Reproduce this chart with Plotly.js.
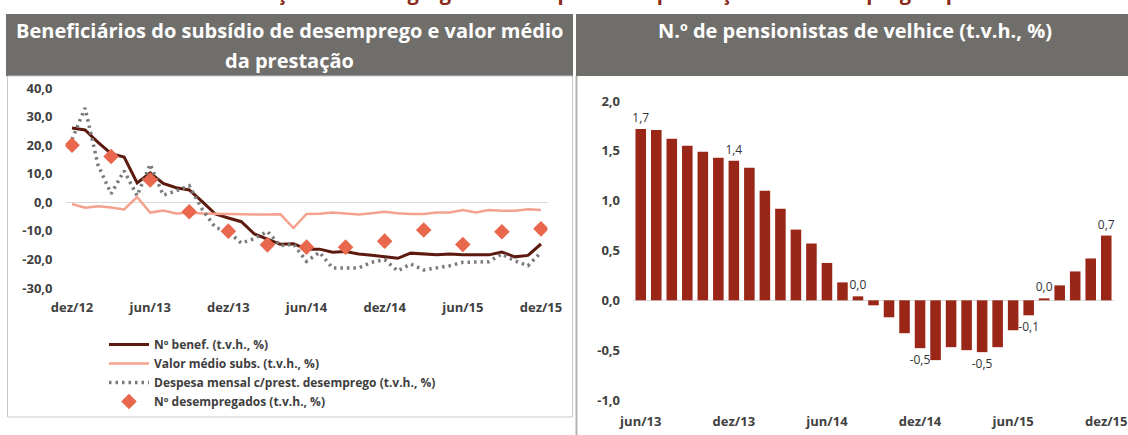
<!DOCTYPE html>
<html><head><meta charset="utf-8">
<script src="https://cdn.plot.ly/plotly-3.0.1.min.js"></script>
<style>html,body{margin:0;padding:0;background:#fff;} #chart{width:1128px;height:435px;}</style>
</head><body><div id="chart"></div>
<script>
const months = ['dez/12','jan/13','fev/13','mar/13','abr/13','mai/13','jun/13','jul/13','ago/13','set/13','out/13','nov/13',
  'dez/13','jan/14','fev/14','mar/14','abr/14','mai/14','jun/14','jul/14','ago/14','set/14','out/14','nov/14',
  'dez/14','jan/15','fev/15','mar/15','abr/15','mai/15','jun/15','jul/15','ago/15','set/15','out/15','nov/15','dez/15'];
const benef = [26.0,25.3,21.0,17.0,15.8,6.8,10.3,6.6,5.1,4.3,0.2,-4.1,-5.5,-6.8,-11.1,-12.9,-14.7,-14.5,-16.4,-16.4,-17.5,-17.2,-18.1,-18.5,
  -19.1,-19.6,-17.8,-18.1,-18.4,-18.1,-18.4,-18.4,-18.4,-17.4,-19.1,-18.6,-14.6];
const valorMedio = [-0.6,-1.9,-1.4,-1.8,-2.5,1.8,-3.6,-2.9,-3.9,-3.7,-3.9,-4.1,-4.1,-4.2,-4.3,-4.3,-4.2,-9.0,-4.1,-4.0,-3.6,-3.9,-4.3,-3.8,
  -3.3,-3.8,-4.1,-4.1,-3.6,-3.6,-2.7,-3.6,-2.7,-3.0,-3.0,-2.4,-2.7];
const despesa = [22.0,33.0,13.0,3.0,11.0,2.3,13.3,2.5,4.0,5.8,-2.5,-8.8,-10.3,-14.3,-12.7,-10.2,-15.2,-14.6,-20.7,-17.5,-23.0,-23.0,-23.0,-21.0,
  -20.1,-24.0,-21.6,-23.7,-23.0,-22.2,-21.0,-21.0,-20.8,-18.1,-20.5,-22.2,-17.5];
const quarterMonths = ['dez/12','mar/13','jun/13','set/13','dez/13','mar/14','jun/14','set/14','dez/14','mar/15','jun/15','set/15','dez/15'];
const desempregados = [20.0,16.0,7.8,-3.3,-10.1,-14.9,-15.7,-15.7,-13.6,-9.7,-14.8,-10.3,-9.3];
const leftTickVals = ['dez/12','jun/13','dez/13','jun/14','dez/14','jun/15','dez/15'];
const leftYTicks = [40,30,20,10,0,-10,-20,-30];
const leftYTickText = ['40,0','30,0','20,0','10,0','0,0','-10,0','-20,0','-30,0'];

const barMonths = ['jun/13','jul/13','ago/13','set/13','out/13','nov/13','dez/13','jan/14','fev/14','mar/14','abr/14','mai/14',
  'jun/14','jul/14','ago/14','set/14','out/14','nov/14','dez/14','jan/15','fev/15','mar/15','abr/15','mai/15',
  'jun/15','jul/15','ago/15','set/15','out/15','nov/15','dez/15'];
const pensionistas = [1.72,1.71,1.62,1.55,1.49,1.43,1.40,1.33,1.10,0.92,0.71,0.57,0.375,0.18,0.04,-0.05,-0.17,-0.33,-0.48,-0.60,
  -0.47,-0.50,-0.52,-0.47,-0.30,-0.15,0.02,0.15,0.29,0.42,0.65];
const barLabels = ['1,7','','','','','','1,4','','','','','','','','0,0','','','','-0,5','','','','-0,5','','','-0,1','0,0','','','','0,7'];
const rightTickVals = ['jun/13','dez/13','jun/14','dez/14','jun/15','dez/15'];
const rightYTicks = [2,1.5,1,0.5,0,-0.5,-1];
const rightYTickText = ['2,0','1,5','1,0','0,5','0,0','-0,5','-1,0'];

const W = 1128, H = 435;
const px = v => v / W;
const py = v => 1 - v / H;
const FONT = 'Open Sans';
const tickFont = {family: FONT, size: 13, color: '#404040', weight: 700};

const traces = [
  {x: months, y: benef, type: 'scatter', mode: 'lines', name: 'Nº benef. (t.v.h., %)',
   line: {color: '#5c1b0e', width: 3}, xaxis: 'x', yaxis: 'y'},
  {x: months, y: valorMedio, type: 'scatter', mode: 'lines', name: 'Valor médio subs. (t.v.h., %)',
   line: {color: '#f4a18e', width: 2.5}, xaxis: 'x', yaxis: 'y'},
  {x: months, y: despesa, type: 'scatter', mode: 'lines', name: 'Despesa mensal c/prest. desemprego (t.v.h., %)',
   line: {color: '#7a7a7a', width: 3.5, dash: '2.5px,4px'}, xaxis: 'x', yaxis: 'y'},
  {x: quarterMonths, y: desempregados, type: 'scatter', mode: 'markers', name: 'Nº desempregados (t.v.h., %)',
   marker: {symbol: 'diamond', size: 12, color: '#e8674d'}, xaxis: 'x', yaxis: 'y'},
  {x: barMonths, y: pensionistas, type: 'bar', showlegend: false, xaxis: 'x2', yaxis: 'y2',
   marker: {color: '#9a2617'}, text: barLabels, textposition: 'outside', cliponaxis: false,
   constraintext: 'none', textfont: {family: FONT, size: 12, color: '#333333'}, hoverinfo: 'skip'}
];

const layout = {
  width: W, height: H, margin: {l: 0, r: 0, t: 0, b: 0, pad: 0},
  paper_bgcolor: '#ffffff', plot_bgcolor: 'rgba(0,0,0,0)',
  font: {family: FONT, color: '#404040'},
  separators: ',.',
  bargap: 0.32,
  xaxis: {domain: [px(65.5), px(547.5)], anchor: 'y', type: 'category', categoryorder: 'array', categoryarray: months,
    range: [-0.5, 36.5], tickvals: leftTickVals, ticktext: leftTickVals, tickfont: tickFont,
    showgrid: false, zeroline: false, showline: false, ticks: '', ticklabelstandoff: 10, fixedrange: true},
  yaxis: {domain: [py(288), py(88)], anchor: 'x', range: [-30, 40], tickvals: leftYTicks, ticktext: leftYTickText,
    tickfont: tickFont, showgrid: false, zeroline: true, zerolinecolor: '#d9d9d9', zerolinewidth: 1,
    showline: false, ticks: '', ticklabelstandoff: 12, fixedrange: true},
  xaxis2: {domain: [px(633), px(1114)], anchor: 'y2', type: 'category', categoryorder: 'array', categoryarray: barMonths,
    range: [-0.5, 30.5], tickvals: rightTickVals, ticktext: rightTickVals, tickfont: tickFont,
    showgrid: false, zeroline: false, showline: false, ticks: '', ticklabelstandoff: 12, fixedrange: true},
  yaxis2: {domain: [py(400), py(101)], anchor: 'x2', range: [-1, 2], tickvals: rightYTicks, ticktext: rightYTickText,
    tickfont: tickFont, showgrid: false, zeroline: true, zerolinecolor: '#d9d9d9', zerolinewidth: 1,
    showline: false, ticks: '', ticklabelstandoff: 12, fixedrange: true},
  showlegend: true,
  legend: {x: px(104), y: py(330), xanchor: 'left', yanchor: 'top', bgcolor: 'rgba(0,0,0,0)', borderwidth: 0,
    font: {family: FONT, size: 12, color: '#404040', weight: 700}, itemwidth: 40, tracegroupgap: 0, traceorder: 'normal'},
  shapes: [
    {type: 'rect', xref: 'paper', yref: 'paper', x0: px(6), x1: px(573), y0: py(76), y1: py(14),
     fillcolor: '#6f6e6b', line: {width: 0}, layer: 'below'},
    {type: 'rect', xref: 'paper', yref: 'paper', x0: px(576), x1: px(1128), y0: py(76), y1: py(14),
     fillcolor: '#6f6e6b', line: {width: 0}, layer: 'below'},
    {type: 'rect', xref: 'paper', yref: 'paper', x0: px(7.5), x1: px(572.5), y0: py(417), y1: py(76),
     fillcolor: 'rgba(0,0,0,0)', line: {color: '#c9c9c9', width: 1}, layer: 'below'},
    {type: 'line', xref: 'paper', yref: 'paper', x0: px(576.5), x1: px(576.5), y0: py(76), y1: py(435),
     line: {color: '#b3b3b3', width: 2}, layer: 'below'}
  ],
  annotations: [
    {text: 'Gráfico 8 – Evolução do n.º e agregado da despesa com prestações de desemprego e pensões',
     xref: 'paper', yref: 'paper', x: px(570), y: py(8), xanchor: 'center', yanchor: 'bottom', showarrow: false,
     font: {family: FONT, size: 20, color: '#8c2a1a', weight: 700}},
    {text: 'Beneficiários do subsídio de desemprego e valor médio', xref: 'paper', yref: 'paper',
     x: px(289), y: py(30), xanchor: 'center', yanchor: 'middle', showarrow: false,
     font: {family: FONT, size: 20, color: '#ffffff', weight: 700}},
    {text: 'da prestação', xref: 'paper', yref: 'paper',
     x: px(289), y: py(60), xanchor: 'center', yanchor: 'middle', showarrow: false,
     font: {family: FONT, size: 20, color: '#ffffff', weight: 700}},
    {text: 'N.º de pensionistas de velhice (t.v.h., %)', xref: 'paper', yref: 'paper',
     x: px(855), y: py(30), xanchor: 'center', yanchor: 'middle', showarrow: false,
     font: {family: FONT, size: 20, color: '#ffffff', weight: 700}}
  ]
};

Plotly.newPlot('chart', traces, layout, {staticPlot: true, displayModeBar: false});
</script>
</body></html>
